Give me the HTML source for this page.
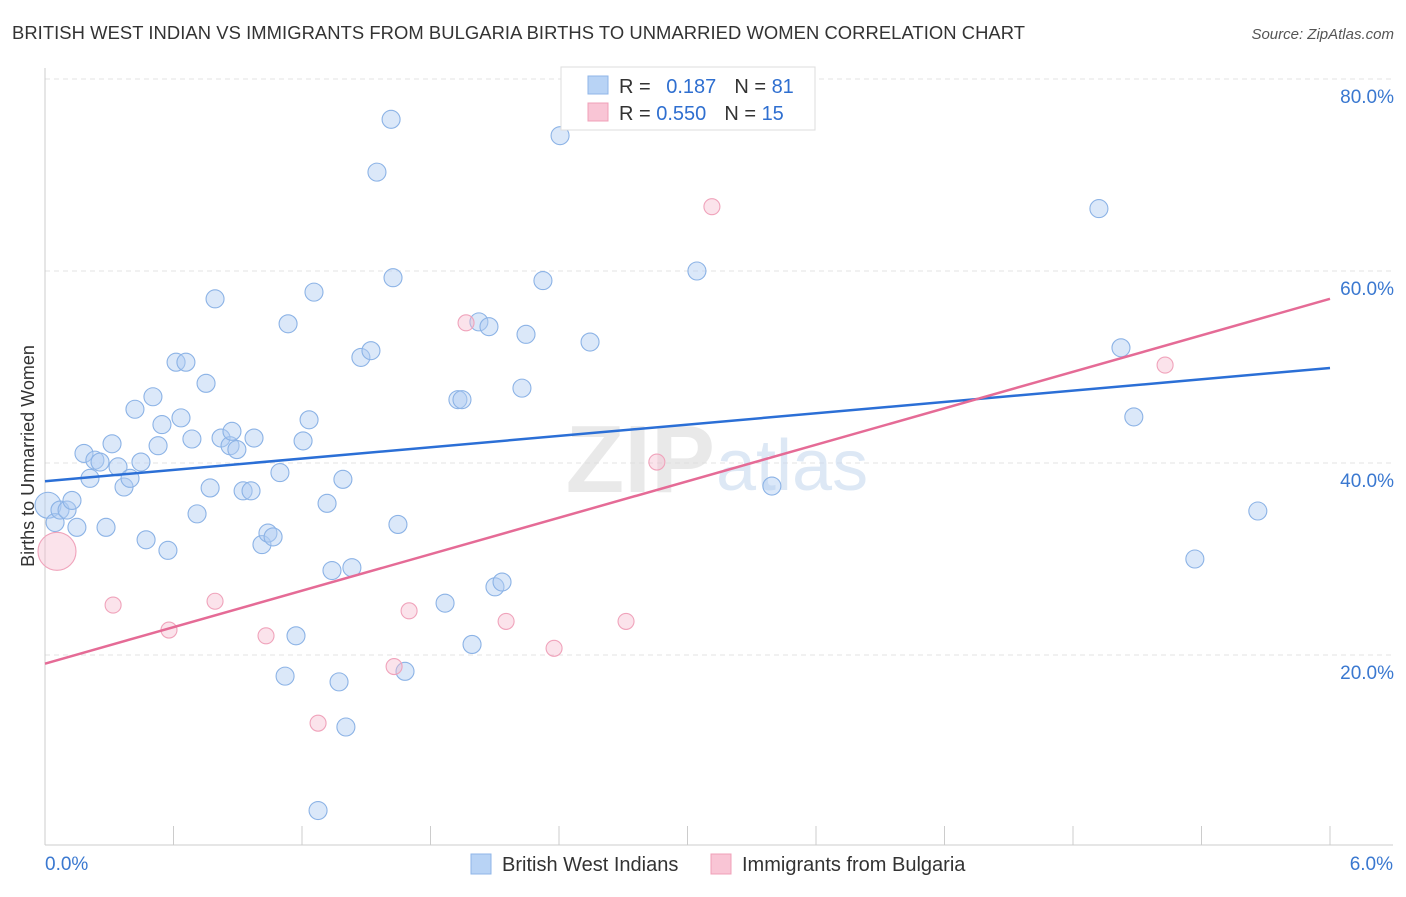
<!DOCTYPE html>
<html><head><meta charset="utf-8">
<style>
body{margin:0;background:#fff;font-family:"Liberation Sans",sans-serif;}
svg text{font-family:"Liberation Sans",sans-serif;}
</style></head>
<body>
<svg id="chart" width="1406" height="892">
<text x="12" y="39" font-size="18.4" fill="#333" textLength="1013">BRITISH WEST INDIAN VS IMMIGRANTS FROM BULGARIA BIRTHS TO UNMARRIED WOMEN CORRELATION CHART</text>
<text x="1394" y="39" font-size="15" fill="#555" font-style="italic" text-anchor="end">Source: ZipAtlas.com</text>
<g id="grid"></g>
<text x="715" y="492" font-size="96" fill="#dcdcdc" text-anchor="end" font-family="Liberation Serif" font-weight="bold" opacity="0.6">ZIP</text>
<text x="716" y="490" font-size="72" fill="#c7d9ef" opacity="0.6">atlas</text>
<g id="marks"></g>
<text transform="translate(34,456) rotate(-90)" font-size="18" fill="#333" text-anchor="middle">Births to Unmarried Women</text>
<g>
<rect x="561" y="67" width="254" height="63" fill="#fff" stroke="#ddd"/>
<rect x="588" y="76" width="20" height="18" fill="#b8d3f5" stroke="#8fb6e8"/>
<rect x="588" y="103" width="20" height="18" fill="#f9c5d5" stroke="#f0a0b8"/>
<text x="619" y="93" font-size="20" fill="#333">R = <tspan fill="#2f6fd0" dx="10">0.187</tspan><tspan dx="18">N = </tspan><tspan fill="#2f6fd0">81</tspan></text>
<text x="619" y="120" font-size="20" fill="#333">R = <tspan fill="#2f6fd0">0.550</tspan><tspan dx="18">N = </tspan><tspan fill="#2f6fd0">15</tspan></text>
</g>
<g>
<rect x="471" y="854" width="20" height="20" fill="#b8d3f5" stroke="#8fb6e8"/>
<text x="502" y="871" font-size="20" fill="#333">British West Indians</text>
<rect x="711" y="854" width="20" height="20" fill="#f9c5d5" stroke="#f0a0b8"/>
<text x="742" y="871" font-size="20" fill="#333">Immigrants from Bulgaria</text>
</g>
</svg>
<script>
const blueX=[0.014,0.047,0.070,0.103,0.126,0.149,0.182,0.210,0.233,0.257,0.285,0.313,0.341,0.369,0.397,0.420,0.448,0.472,0.504,0.528,0.546,0.574,0.612,0.635,0.658,0.686,0.710,0.752,0.771,0.794,0.822,0.864,0.873,0.896,0.925,0.962,0.976,1.013,1.041,1.065,1.097,1.135,1.172,1.121,1.205,1.233,1.256,1.317,1.340,1.373,1.391,1.405,1.433,1.475,1.522,1.550,1.616,1.625,1.648,1.681,1.275,1.868,1.928,1.947,1.994,2.026,2.073,2.101,2.134,2.227,2.246,2.325,2.405,2.545,3.044,3.394,4.921,5.024,5.084,5.369,5.663];
const blueY=[35.6,33.8,35.1,35.1,36.1,33.3,41.0,38.4,40.3,40.1,33.3,42.0,39.6,37.5,38.4,45.6,40.1,32.0,46.9,41.8,44.0,30.9,50.5,44.7,50.5,42.5,34.7,48.3,37.4,57.1,42.6,41.8,43.3,41.4,37.1,37.1,42.6,31.5,32.7,32.3,39.0,54.5,22.0,17.8,42.3,44.5,57.8,35.8,28.8,17.2,38.3,12.5,29.1,51.0,51.7,70.3,75.8,59.3,33.6,18.3,3.8,25.4,46.6,46.6,21.1,54.7,54.2,27.1,27.6,47.8,53.4,59.0,74.1,52.6,60.0,37.6,66.5,52.0,44.8,30.0,35.0];
const pinkX=[0.056,0.318,0.579,0.794,1.032,1.275,1.630,1.700,1.966,2.153,2.377,2.713,2.857,3.114,5.230];
const pinkY=[30.8,25.2,22.6,25.6,22.0,12.9,18.8,24.6,54.6,23.5,20.7,23.5,40.1,66.7,50.2];
const blueTrend=[38.1,49.9];
const pinkTrend=[19.1,57.1];
const yTicks=[20,40,60,80];
const xTickLabels=["0.0%","6.0%"];
const NS="http://www.w3.org/2000/svg";
const xs=v=>45+v/6*1285;
const ys=v=>847-v*9.6;
function mk(tag,attrs,parent){const e=document.createElementNS(NS,tag);for(const k in attrs)e.setAttribute(k,attrs[k]);parent.appendChild(e);return e;}
const grid=document.getElementById('grid');
const marks=document.getElementById('marks');
yTicks.forEach(t=>{
  const l=mk('line',{x1:45,x2:1393,y1:ys(t),y2:ys(t),stroke:'#e3e3e3','stroke-dasharray':'5,4'},grid);
  
  
  const tx=mk('text',{x:1394,y:ys(t)+24,'font-size':19,fill:'#3a78d0','text-anchor':'end'},grid);
  tx.textContent=t.toFixed(1)+'%';
  
  
});
const ax=mk('line',{x1:45,x2:45,y1:68,y2:845,stroke:'#ccc'},grid);


const bx=mk('line',{x1:45,x2:1393,y1:845,y2:845,stroke:'#ccc'},grid);


for(let i=0;i<=10;i++){
  const t=mk('line',{x1:xs(i*0.6),x2:xs(i*0.6),y1:826,y2:845,stroke:'#ccc'},grid);
  
  
}
[[0,'start',45],[6,'end',1393]].forEach((p,i)=>{
  const tx=mk('text',{x:p[2],y:870,'font-size':19,fill:'#3a78d0','text-anchor':p[1]},grid);
  tx.textContent=xTickLabels[i];
  
  
});
blueX.forEach((x,i)=>{
  const c=mk('circle',{cx:xs(x),cy:ys(blueY[i]),r:i==0?13:9,fill:'rgba(176,205,242,0.45)',stroke:'#8cb3e6','stroke-width':1.1},marks);
  
  
});
pinkX.forEach((x,i)=>{
  const c=mk('circle',{cx:xs(x),cy:ys(pinkY[i]),r:i==0?19:8,fill:'rgba(246,185,205,0.4)',stroke:'#f0a3bb','stroke-width':1.1},marks);
  
  
});
const bl=mk('line',{x1:xs(0),y1:ys(blueTrend[0]),x2:xs(6),y2:ys(blueTrend[1]),stroke:'#2b6fd6','stroke-width':2.5},marks);


const pl=mk('line',{x1:xs(0),y1:ys(pinkTrend[0]),x2:xs(6),y2:ys(pinkTrend[1]),stroke:'#e56b96','stroke-width':2.5},marks);


</script>
</body></html>
